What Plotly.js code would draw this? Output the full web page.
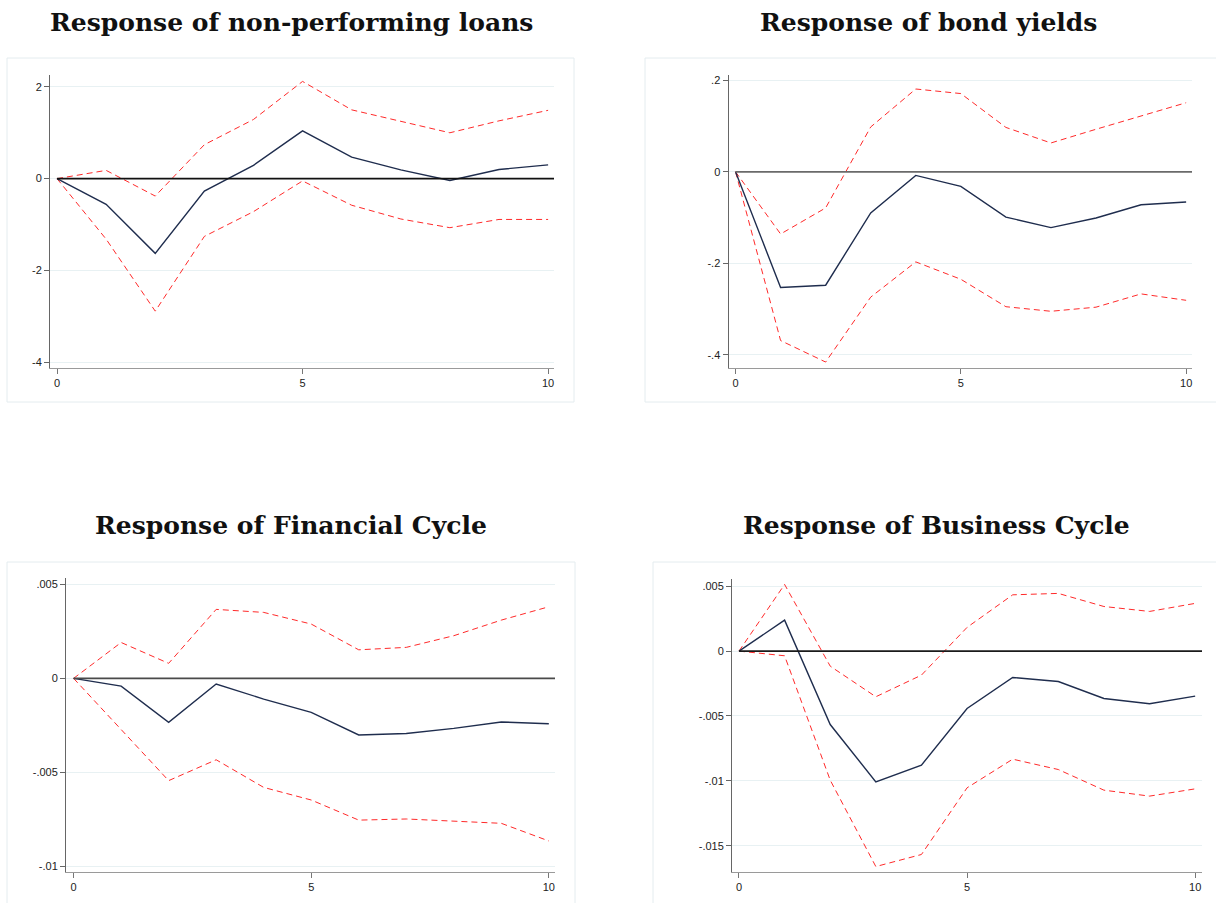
<!DOCTYPE html>
<html>
<head>
<meta charset="utf-8">
<script src="https://cdn.plot.ly/plotly-3.0.1.min.js"></script>
<style>
html,body{margin:0;padding:0;background:#fff;}
#chart{width:1216px;height:903px;}
</style>
</head>
<body>
<div id="chart"></div>
<script>
// ---- data ----
const steps = [0,1,2,3,4,5,6,7,8,9,10];

const titles = [
  "Response of non-performing loans",
  "Response of bond yields",
  "Response of Financial Cycle",
  "Response of Business Cycle"
];

const nplIrf = [0,-0.56,-1.63,-0.27,0.29,1.04,0.47,0.19,-0.04,0.20,0.30];
const nplHi  = [0,0.18,-0.38,0.74,1.29,2.12,1.50,1.25,1.00,1.26,1.49];
const nplLo  = [0,-1.32,-2.89,-1.26,-0.72,-0.05,-0.58,-0.88,-1.07,-0.89,-0.89];

const bondIrf = [0,-0.253,-0.248,-0.090,-0.008,-0.032,-0.099,-0.122,-0.101,-0.072,-0.066];
const bondHi  = [0,-0.136,-0.079,0.098,0.181,0.171,0.097,0.063,0.093,0.122,0.151];
const bondLo  = [0,-0.369,-0.416,-0.274,-0.197,-0.235,-0.295,-0.305,-0.296,-0.267,-0.281];

const finIrf = [0,-0.00041,-0.00234,-0.00030,-0.00110,-0.00181,-0.00301,-0.00293,-0.00266,-0.00232,-0.00241];
const finHi  = [0,0.00191,0.00080,0.00367,0.00351,0.00289,0.00152,0.00165,0.00227,0.00310,0.00381];
const finLo  = [0,-0.00270,-0.00544,-0.00433,-0.00580,-0.00647,-0.00754,-0.00748,-0.00761,-0.00771,-0.00865];

const busIrf = [0,0.00239,-0.00566,-0.01008,-0.00879,-0.00442,-0.00203,-0.00234,-0.00365,-0.00406,-0.00347];
const busHi  = [0,0.00514,-0.00116,-0.00352,-0.00185,0.00183,0.00434,0.00445,0.00344,0.00306,0.00368];
const busLo  = [0,-0.00036,-0.00995,-0.01661,-0.01568,-0.01054,-0.00833,-0.00913,-0.01072,-0.01118,-0.01062];

const xTicks = [0,5,10];
const xLabels = ["0","5","10"];
const nplTicks = [-4,-2,0,2];           const nplLabels = ["-4","-2","0","2"];
const bondTicks = [-0.4,-0.2,0,0.2];    const bondLabels = ["-.4","-.2","0",".2"];
const finTicks = [-0.01,-0.005,0,0.005]; const finLabels = ["-.01","-.005","0",".005"];
const busTicks = [-0.015,-0.01,-0.005,0,0.005]; const busLabels = ["-.015","-.01","-.005","0",".005"];

// ---- layout helpers ----
const W = 1216, H = 903;
const px = v => v / W;
const py = v => 1 - v / H;

const panels = [
  {irf:nplIrf, hi:nplHi, lo:nplLo, yt:nplTicks, yl:nplLabels,
   plot:[50,554,75,368], xr:[-0.143,10.12], yr:[-4.13,2.26],
   box:[7,574,58,402], title:[291,23], zc:"#111111"},
  {irf:bondIrf, hi:bondHi, lo:bondLo, yt:bondTicks, yl:bondLabels,
   plot:[728.5,1192,75,368], xr:[-0.156,10.13], yr:[-0.429,0.2116],
   box:[645,1230,58,402], title:[928,23], zc:"#6a6a6a"},
  {irf:finIrf, hi:finHi, lo:finLo, yt:finTicks, yl:finLabels,
   plot:[66,555,578,872], xr:[-0.16,10.13], yr:[-0.0103,0.00534],
   box:[7,575,562,920], title:[291,525], zc:"#4a4a4a"},
  {irf:busIrf, hi:busHi, lo:busLo, yt:busTicks, yl:busLabels,
   plot:[732,1202,579,872], xr:[-0.153,10.15], yr:[-0.01703,0.00556],
   box:[653,1230,562,920], title:[936,525], zc:"#1a1a1a"}
];

const navy = "#1f2d4e";
const red = "#ff2a2a";
const traces = [];
const layout = {
  width: W, height: H,
  margin: {l:0,r:0,t:0,b:0},
  paper_bgcolor: "#ffffff",
  plot_bgcolor: "rgba(0,0,0,0)",
  showlegend: false,
  shapes: [], annotations: []
};

panels.forEach((p, i) => {
  const n = i + 1;
  const xa = n === 1 ? "x" : "x" + n;
  const ya = n === 1 ? "y" : "y" + n;
  const xk = n === 1 ? "xaxis" : "xaxis" + n;
  const yk = n === 1 ? "yaxis" : "yaxis" + n;

  layout.shapes.push({type:"rect", xref:"paper", yref:"paper",
    x0:px(p.box[0]), x1:px(p.box[1]), y0:py(p.box[3]), y1:py(p.box[2]),
    line:{color:"#e4ecef", width:1}, fillcolor:"rgba(0,0,0,0)", layer:"below"});

  layout.shapes.push({type:"line", xref:xa, yref:ya,
    x0:0, x1:p.xr[1], y0:0, y1:0,
    line:{color:p.zc, width:1.8}, layer:"above"});

  traces.push({x:steps, y:p.hi, xaxis:xa, yaxis:ya, type:"scatter", mode:"lines",
    line:{color:red, width:1, dash:"6px,4px"}, hoverinfo:"skip"});
  traces.push({x:steps, y:p.lo, xaxis:xa, yaxis:ya, type:"scatter", mode:"lines",
    line:{color:red, width:1, dash:"6px,4px"}, hoverinfo:"skip"});
  traces.push({x:steps, y:p.irf, xaxis:xa, yaxis:ya, type:"scatter", mode:"lines",
    line:{color:navy, width:1.4}, hoverinfo:"skip"});

  layout[xk] = {
    domain:[px(p.plot[0]), px(p.plot[1])],
    anchor: ya, range:p.xr, tickmode:"array", tickvals:xTicks, ticktext:xLabels,
    showgrid:false, zeroline:false, showline:true, linecolor:"#9a9a9a", linewidth:1,
    ticks:"outside", ticklen:5, tickcolor:"#777777", tickwidth:1,
    tickfont:{family:"Liberation Sans, Arial, sans-serif", size:11, color:"#222222"},
    fixedrange:true
  };
  layout[yk] = {
    domain:[py(p.plot[3]), py(p.plot[2])],
    anchor: xa, range:p.yr, tickmode:"array", tickvals:p.yt, ticktext:p.yl,
    showgrid:true, gridcolor:"#e8f1f3", gridwidth:1, zeroline:false,
    showline:true, linecolor:"#666666", linewidth:1,
    ticks:"outside", ticklen:5, tickcolor:"#666666", tickwidth:1,
    tickfont:{family:"Liberation Sans, Arial, sans-serif", size:11, color:"#222222"},
    fixedrange:true
  };

  layout.annotations.push({
    text: "<b>" + titles[i] + "</b>",
    xref:"paper", yref:"paper", x:px(p.title[0]), y:py(p.title[1]),
    xanchor:"center", yanchor:"middle", showarrow:false,
    font:{family:"DejaVu Serif, serif", size:25, color:"#111111"}
  });
});

Plotly.newPlot("chart", traces, layout, {staticPlot:true, displayModeBar:false});
</script>
</body>
</html>
